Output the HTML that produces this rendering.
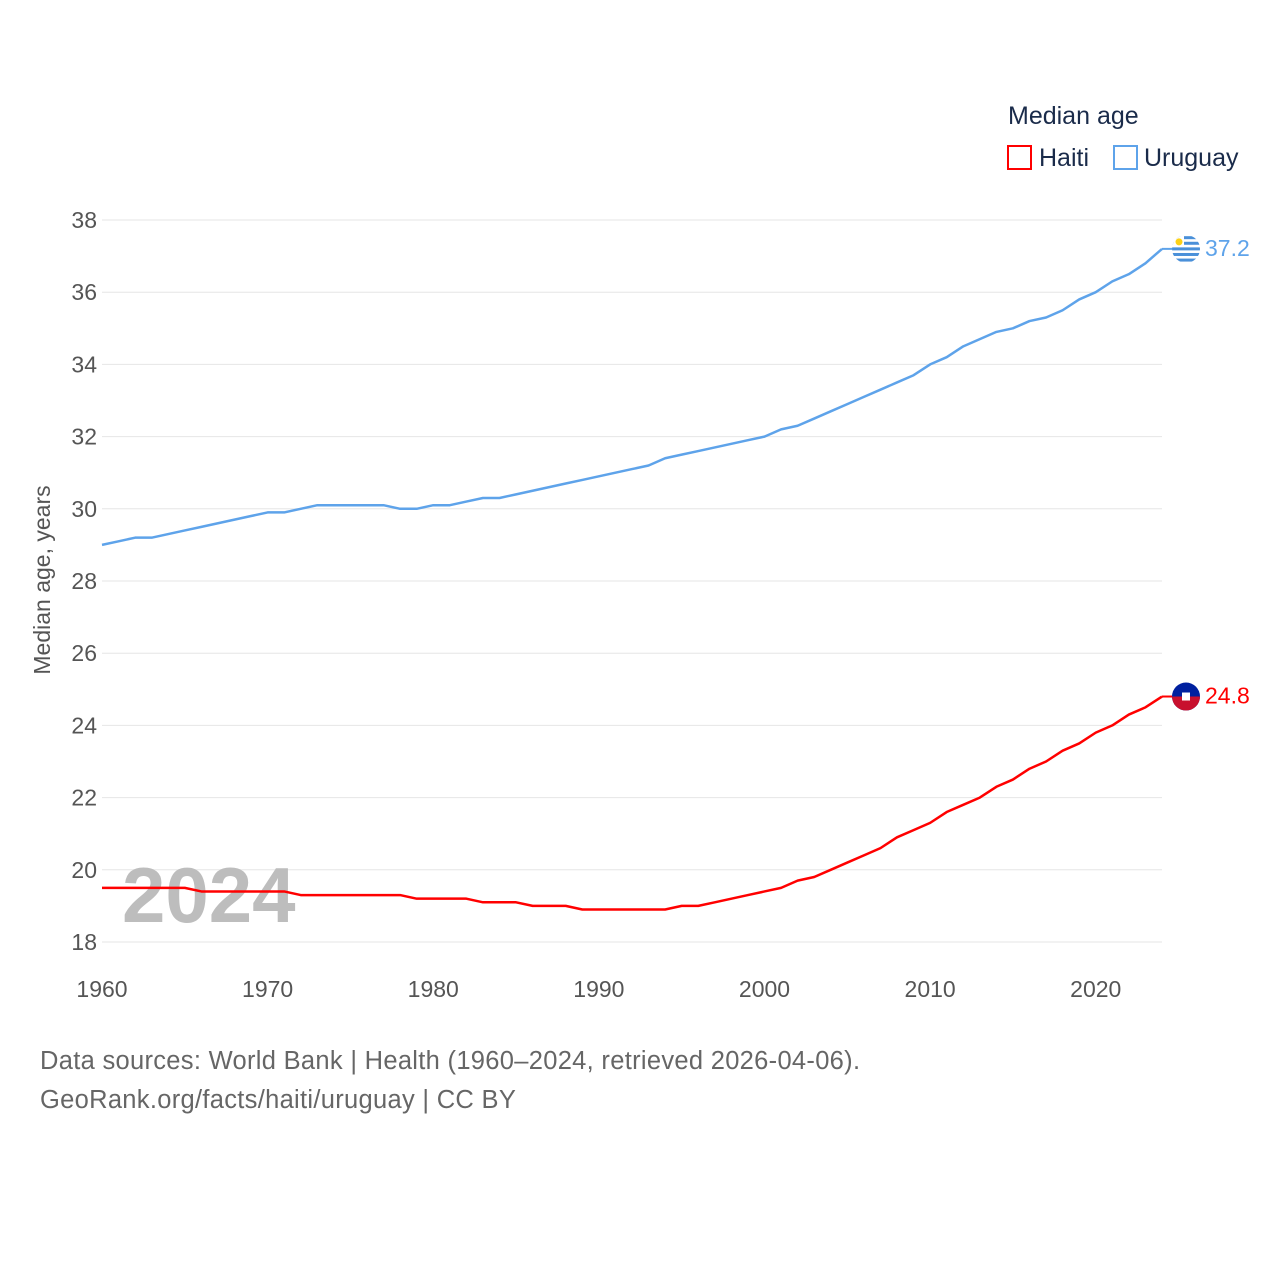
<!DOCTYPE html>
<html><head><meta charset="utf-8"><style>
body{margin:0;background:#fff;font-family:"Liberation Sans",sans-serif}
</style></head><body>
<svg width="1280" height="1280" xmlns="http://www.w3.org/2000/svg" style="font-family:'Liberation Sans',sans-serif">
<defs><clipPath id="cu"><circle cx="1186" cy="246" r="14"/></clipPath></defs>
<g id="grid"></g><g id="ylabels"></g><g id="xlabels"></g>
<text x="122" y="922" font-size="78" font-weight="bold" fill="#bdbdbd">2024</text>
<text transform="translate(50,580) rotate(-90)" text-anchor="middle" font-size="23" fill="#555">Median age, years</text>
<g id="lines"></g>
<text x="1008" y="124" font-size="25" fill="#1a2b4a">Median age</text>
<g><rect x="1008" y="146" width="23" height="23" fill="none" stroke="#ff0000" stroke-width="2"/><text x="1039" y="166" font-size="25" fill="#1a2b4a">Haiti</text></g>
<g><rect x="1114" y="146" width="23" height="23" fill="none" stroke="#5ea3ea" stroke-width="2"/><text x="1144" y="166" font-size="25" fill="#1a2b4a">Uruguay</text></g>
<text x="40" y="1069" font-size="25.5" letter-spacing="0.3" fill="#666">Data sources: World Bank | Health (1960–2024, retrieved 2026-04-06).</text>
<text x="40" y="1108" font-size="25.5" letter-spacing="0.3" fill="#666">GeoRank.org/facts/haiti/uruguay | CC BY</text>
</svg>
<script>
const years=[];for(let y=1960;y<=2024;y++)years.push(y);
const uruguay=[29.0,29.1,29.2,29.2,29.3,29.4,29.5,29.6,29.7,29.8,29.9,29.9,30.0,30.1,30.1,30.1,30.1,30.1,30.0,30.0,30.1,30.1,30.2,30.3,30.3,30.4,30.5,30.6,30.7,30.8,30.9,31.0,31.1,31.2,31.4,31.5,31.6,31.7,31.8,31.9,32.0,32.2,32.3,32.5,32.7,32.9,33.1,33.3,33.5,33.7,34.0,34.2,34.5,34.7,34.9,35.0,35.2,35.3,35.5,35.8,36.0,36.3,36.5,36.8,37.2];
const haiti=[19.5,19.5,19.5,19.5,19.5,19.5,19.4,19.4,19.4,19.4,19.4,19.4,19.3,19.3,19.3,19.3,19.3,19.3,19.3,19.2,19.2,19.2,19.2,19.1,19.1,19.1,19.0,19.0,19.0,18.9,18.9,18.9,18.9,18.9,18.9,19.0,19.0,19.1,19.2,19.3,19.4,19.5,19.7,19.8,20.0,20.2,20.4,20.6,20.9,21.1,21.3,21.6,21.8,22.0,22.3,22.5,22.8,23.0,23.3,23.5,23.8,24.0,24.3,24.5,24.8];
const yTicks=[18,20,22,24,26,28,30,32,34,36,38];
const xTicks=[1960,1970,1980,1990,2000,2010,2020];
const NS="http://www.w3.org/2000/svg";
const xs=y=>102+(y-1960)*(1162-102)/64;
const ys=v=>942-(v-18)*(942-220)/20;
function mk(t,a,p){const e=document.createElementNS(NS,t);for(const k in a)e.setAttribute(k,a[k]);(typeof p==='string'?document.getElementById(p):p).appendChild(e);return e;}
yTicks.forEach(v=>{
 const l=mk('line',{x1:102,x2:1162,y1:ys(v),y2:ys(v),stroke:'#e6e6e6','stroke-width':1},'grid');
 
 
 const t=mk('text',{x:97,y:ys(v)+8,'text-anchor':'end','font-size':23,fill:'#555'},'ylabels');t.textContent=v;
 
 
});
xTicks.forEach(v=>{
 const t=mk('text',{x:xs(v),y:997,'text-anchor':'middle','font-size':23,fill:'#555'},'xlabels');t.textContent=v;
 
 
});
function series(data,color,name){
 const pts=data.map((v,i)=>xs(years[i])+','+ys(v)).join(' ');
 const p=mk('polyline',{points:pts,fill:'none',stroke:color,'stroke-width':2.5,'stroke-linejoin':'round'},'lines');
 
 
 const last=data[data.length-1],ly=ys(last);
 mk('line',{x1:1162,x2:1175,y1:ly,y2:ly,stroke:color,'stroke-width':2},'lines');
 if(name==='haiti'){
  const c=mk('circle',{cx:1186,cy:ly,r:14,fill:'#00209f'},'lines');
  
  
  mk('path',{d:`M1172,${ly} A14,14 0 0,0 1200,${ly} Z`,fill:'#c8102e'},'lines');mk('rect',{x:1182,y:ly-4,width:8,height:8,fill:'#fff'},'lines');
 } else {
  document.querySelector('#cu circle').setAttribute('cy',ly);
  const g=mk('g',{'clip-path':'url(#cu)'},'lines');
  
  
  mk('rect',{x:1172,y:ly-14,width:28,height:28,fill:'#fff'},g);
  for(let k=-2;k<=2;k++)mk('rect',{x:1172,y:ly+k*5.6-1.5,width:28,height:3,fill:'#4a90d9'},g);
  mk('rect',{x:1172,y:ly-14,width:12,height:12,fill:'#fff'},g);
  mk('circle',{cx:1179,cy:ly-7,r:3.5,fill:'#fcd116'},g);
 }
 const t=mk('text',{x:1205,y:ly+7,'font-size':23,fill:color},'lines');t.textContent=last.toFixed(1);
 
 
}
series(uruguay,'#5ea3ea','uruguay');
series(haiti,'#ff0000','haiti');
</script>
</body></html>
